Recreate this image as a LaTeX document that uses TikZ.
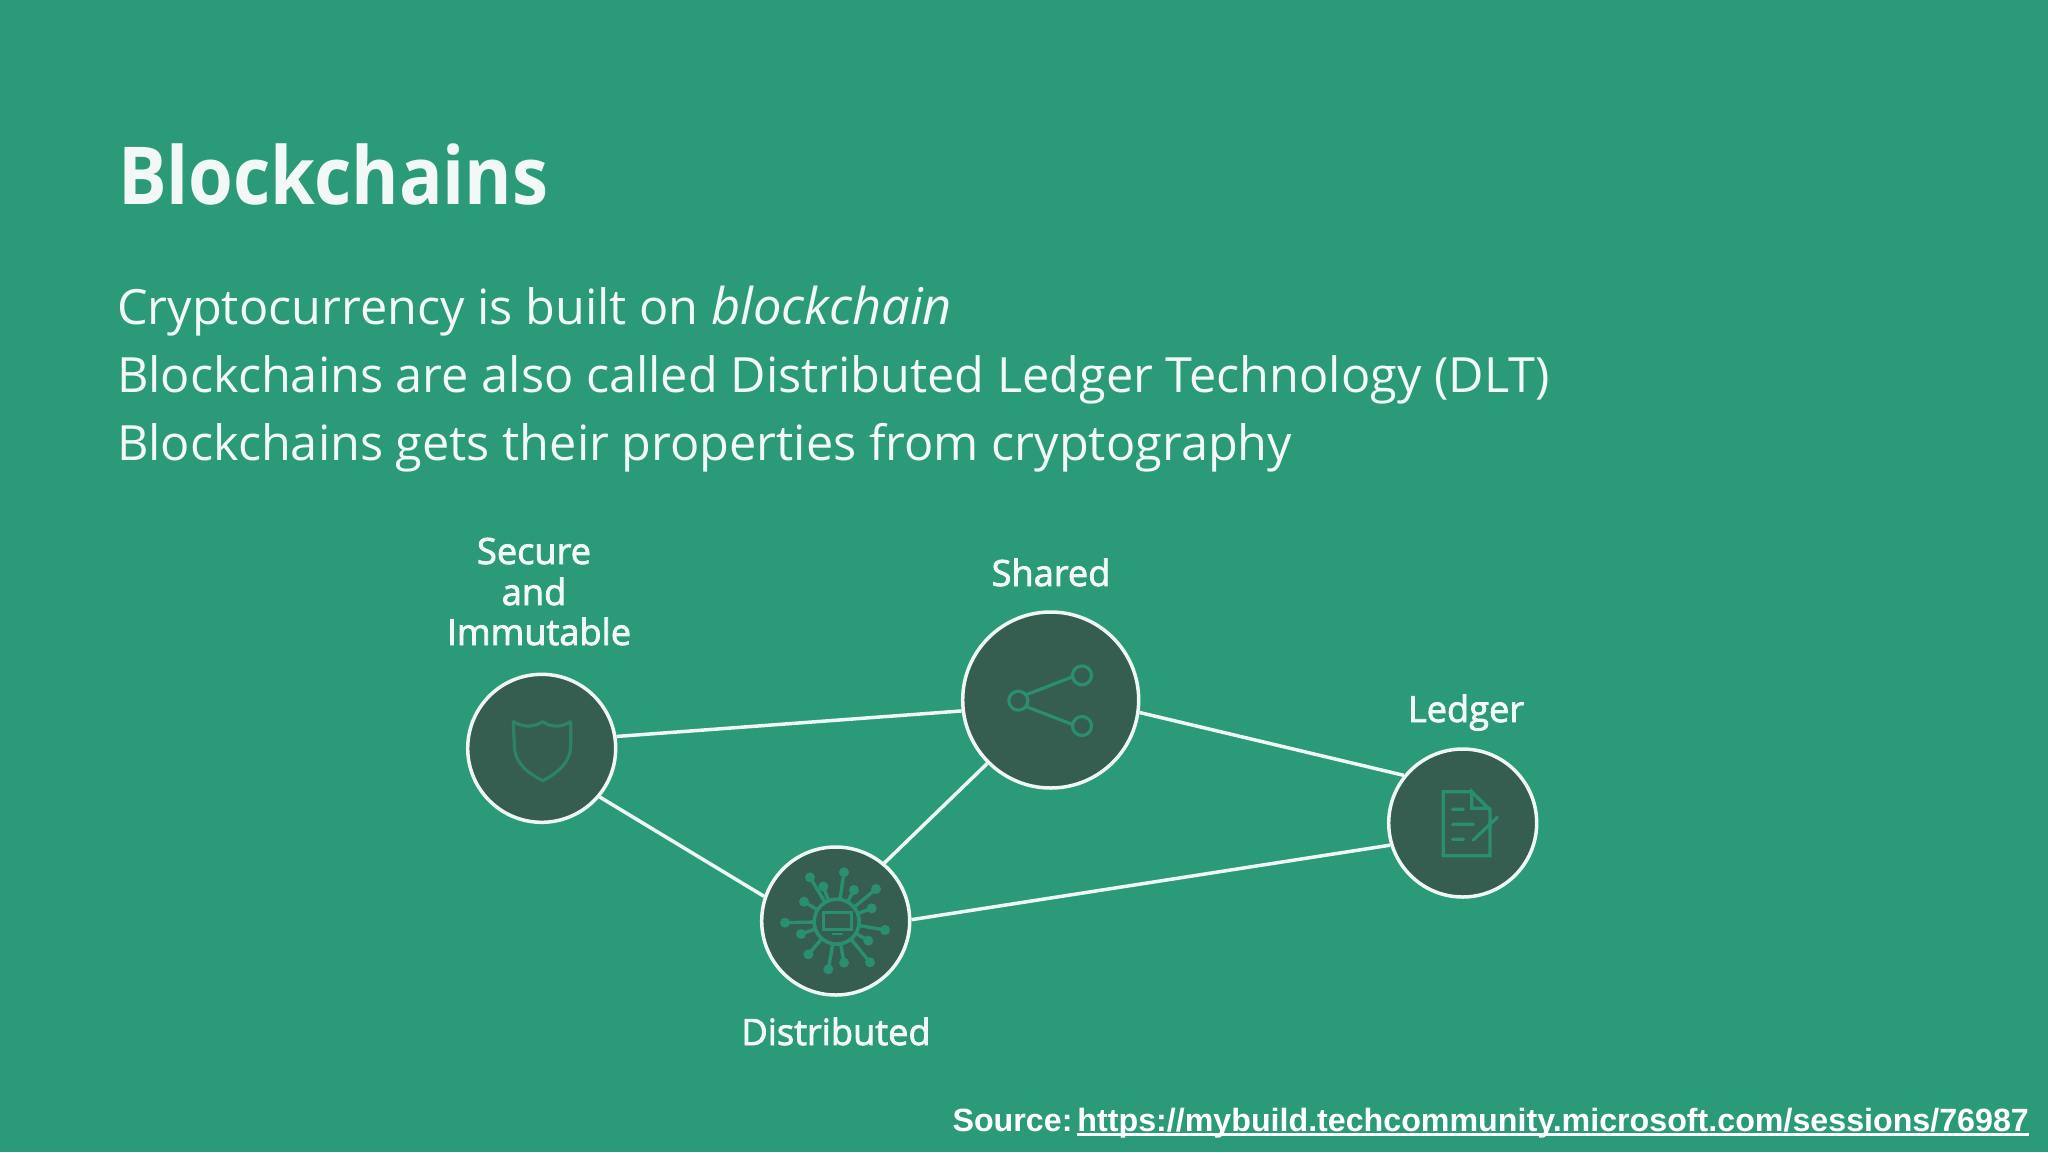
\documentclass[tikz,border=0pt]{standalone}
\usepackage{fontspec}
\usepackage{graphicx}
\setmainfont{Open Sans}
\newfontfamily\labfont{Open Sans}[FakeBold=2.2]
\newfontfamily\srcfont{Liberation Sans}[Ligatures=TeX]
\usetikzlibrary{calc}
\definecolor{bgc}{HTML}{2A9A78}
\definecolor{darkc}{HTML}{355D50}
\definecolor{iconc}{HTML}{2A8F70}
\definecolor{txtc}{HTML}{F2F8F5}
\newlength\ulw
\newcommand\ulnk[1]{\settowidth\ulw{#1}\rlap{\rule[-4.5pt]{\ulw}{2.6pt}}#1}
\tikzset{
  hub/.style={circle,draw=white!92!bgc,fill=darkc,line width=3.5pt,inner sep=0pt,minimum size=#1},
  link/.style={draw=white!92!bgc,line width=3.5pt},
  body/.style={anchor=base west,inner sep=0pt,text=txtc,font=\fontsize{48.6}{49}\selectfont},
  lab/.style={anchor=base,inner sep=0pt,text=txtc,font=\labfont\fontsize{36.2}{36}\selectfont},
  icon/.style={draw=iconc,line width=3.2pt,line cap=round,line join=round},
}
\begin{document}
\begin{tikzpicture}[x=1pt,y=-1pt]
\useasboundingbox (0,0) rectangle (2048,1152);
\fill[bgc] (0,0) rectangle (2048,1152);
\node[anchor=base west,inner sep=0pt,text=txtc,font=\fontsize{80}{80}\selectfont\bfseries] (title) at (118,204) {\scalebox{0.905}[1]{Blockchains}};
\node[body] (l1) at (117,324.8) {Cryptocurrency is built on \textit{\fontsize{50.6}{49}\selectfont blockchain}};
\node[body] (l2) at (117,392.8) {Blockchains are also called Distributed Ledger Technology (DLT)};
\node[body] (l3) at (117,460.8) {Blockchains gets their properties from cryptography};
\node[lab] (s1) at (534,564) {Secure};
\node[lab] (s2) at (534,605) {and};
\node[lab] (s3) at (539,645) {Immutable};
\node[lab] (shl) at (1051,586) {Shared};
\node[lab] (ldl) at (1466,722) {Ledger};
\node[lab] (dsl) at (836,1045) {Distributed};
\node[anchor=base east,inner sep=0pt,text=white,font=\srcfont\fontsize{32.2}{32}\selectfont\bfseries] (src) at (2029,1131) {Source:\hspace{5pt}\ulnk{https://mybuild.techcommunity.microsoft.com/sessions/76987}};
% circles and connectors
\node[hub=148pt] (sec) at (541.7,748.3) {};
\node[hub=176pt] (sha) at (1050.7,700) {};
\node[hub=148pt] (led) at (1462.7,823) {};
\node[hub=148pt] (dis) at (835.7,921) {};
\draw[link] (sec.9) -- (sha.187);
\draw[link] (sec.-40) -- (dis.161);
\draw[link] (sha.225) -- (dis.50);
\draw[link] (sha.-8) -- (led.141);
\draw[link] (dis.1.5) -- (led.197.5);
% shield icon
\begin{scope}[shift={(450,660)},x=0.3333pt,y=-0.3333pt]
\draw[icon,draw=iconc!75!darkc] (190,185) .. controls (225,205) and (255,200) .. (278,185) .. controls (300,200) and (330,205) .. (362,185) -- (362,255) .. controls (362,310) and (320,340) .. (278,362) .. controls (235,340) and (193,310) .. (193,255) -- cycle;
\end{scope}
% share icon
\begin{scope}[shift={(950,600)},x=0.3333pt,y=-0.3333pt]
\draw[icon] (229,284) -- (369,230) (229,320) -- (369,374);
\draw[icon] (205,302) circle[radius=9.5pt];
\draw[icon] (396,226) circle[radius=9.5pt];
\draw[icon] (396,378) circle[radius=9.5pt];
\end{scope}
% ledger icon
\begin{scope}[shift={(1380,740)},x=0.3333pt,y=-0.3333pt]
\draw[icon,line join=miter] (275,155) -- (190,155) -- (190,347) -- (330,347) -- (330,210) -- (275,155) -- (275,205) -- (330,205);
\draw[icon] (218,208) -- (250,208) (218,253) -- (280,253) (218,298) -- (250,298) (280,300) -- (352,232);
\end{scope}
% distributed icon
\begin{scope}[shift={(740,830)},x=0.3333pt,y=-0.3333pt]
\foreach \ex/\ey in {210/142,250/170,312/127,342/180,408/177,395/235,435/300,385/332,390/397,312/398,265/418,205/373,183/312,135/278,192/215}{
  \draw[icon,line width=3.4pt] (290,275) -- (\ex,\ey);
  \fill[iconc] (\ex,\ey) circle[radius=5pt];
}
\draw[icon,fill=darkc,line width=3.6pt] (290,275) circle[radius=22.5pt];
\draw[icon,line width=2.4pt,line join=miter] (250,248) rectangle (335,298);
\draw[icon,line width=2.4pt] (278,312) -- (305,312);
\end{scope}
\end{tikzpicture}
\end{document}
